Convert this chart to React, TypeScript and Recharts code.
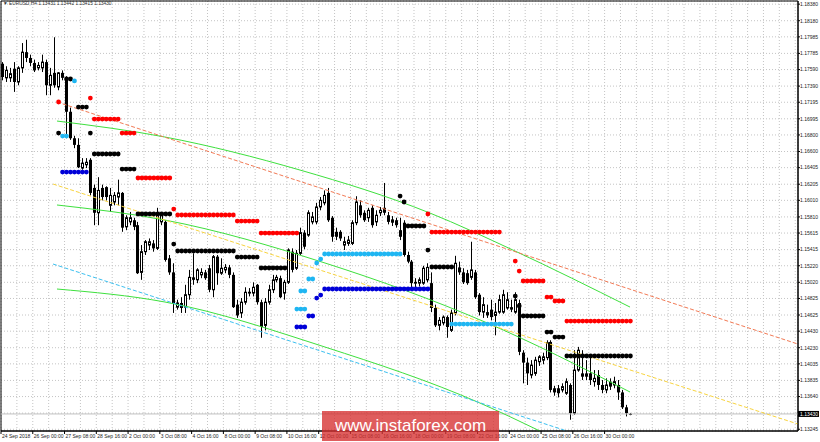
import React from 'react'
import { ComposedChart, Bar, Line, Scatter, XAxis, YAxis, CartesianGrid, ReferenceLine, ReferenceArea } from 'recharts'

// EURUSD H4 candles (bar 0 = 24 Sep 2018 16:00)
const open = [
  1.1766, 1.1749, 1.1749, 1.176, 1.1744, 1.1761, 1.178, 1.1773, 1.1767, 1.1761,
  1.1761, 1.1768, 1.174, 1.1755, 1.1738, 1.1755, 1.1749, 1.1708, 1.1676, 1.1668,
  1.164, 1.1644, 1.165, 1.1616, 1.1586, 1.1616, 1.1617, 1.1595, 1.1599, 1.1605,
  1.161, 1.1569, 1.1575, 1.1577, 1.1571, 1.1514, 1.1539, 1.1547, 1.1549, 1.1543,
  1.1575, 1.1575, 1.1531, 1.1514, 1.1472, 1.1477, 1.1472, 1.1487, 1.1508, 1.1505,
  1.1511, 1.1514, 1.1519, 1.1493, 1.1533, 1.1513, 1.1517, 1.152, 1.1511, 1.1475,
  1.1465, 1.1478, 1.1489, 1.1489, 1.1499, 1.1478, 1.145, 1.1478, 1.1493, 1.1505,
  1.1507, 1.1489, 1.1502, 1.1539, 1.1519, 1.1537, 1.1562, 1.1559, 1.1575, 1.1575,
  1.1593, 1.1598, 1.161, 1.158, 1.1563, 1.1563, 1.1547, 1.1549, 1.1549, 1.1574,
  1.1595, 1.1586, 1.158, 1.1592, 1.1575, 1.1586, 1.1592, 1.1583, 1.1578, 1.1577,
  1.1565, 1.1574, 1.1535, 1.1527, 1.1501, 1.1501, 1.1501, 1.1505, 1.1501, 1.1471,
  1.145, 1.1453, 1.146, 1.1444, 1.1465, 1.152, 1.1514, 1.1513, 1.1508, 1.1514,
  1.1487, 1.1466, 1.1466, 1.1469, 1.1462, 1.1466, 1.1466, 1.1471, 1.1472, 1.1466,
  1.1477, 1.1417, 1.1405, 1.139, 1.1392, 1.1406, 1.1408, 1.1411, 1.143, 1.1374,
  1.1374, 1.1372, 1.1368, 1.1378, 1.1344, 1.1396, 1.1392, 1.1392, 1.1392, 1.1382,
  1.139, 1.1378, 1.1372, 1.1382, 1.1378, 1.1378, 1.1369, 1.1351, 1.13431,
]
const high = [
  1.1768, 1.1763, 1.1761, 1.1768, 1.1763, 1.1791, 1.1795, 1.1777, 1.1771, 1.1768,
  1.1777, 1.1771, 1.1761, 1.1798, 1.1756, 1.1758, 1.1751, 1.1713, 1.1679, 1.1676,
  1.1652, 1.1652, 1.1652, 1.162, 1.1629, 1.162, 1.1618, 1.1616, 1.1611, 1.1626,
  1.1611, 1.1583, 1.1587, 1.158, 1.1575, 1.1547, 1.1553, 1.1555, 1.1553, 1.1592,
  1.1587, 1.1577, 1.1535, 1.1525, 1.1481, 1.1484, 1.1499, 1.1517, 1.1537, 1.1519,
  1.1519, 1.1517, 1.1523, 1.1535, 1.1535, 1.1531, 1.1524, 1.1523, 1.1514, 1.1481,
  1.1483, 1.1496, 1.1495, 1.1502, 1.15, 1.1481, 1.1483, 1.1499, 1.1511, 1.1511,
  1.151, 1.1505, 1.1543, 1.1543, 1.1541, 1.1568, 1.1565, 1.1589, 1.1587, 1.1598,
  1.1605, 1.1613, 1.1616, 1.1582, 1.1568, 1.1565, 1.1557, 1.1558, 1.1577, 1.1606,
  1.1601, 1.1589, 1.1592, 1.1595, 1.1589, 1.1593, 1.1622, 1.1587, 1.1582, 1.158,
  1.158, 1.1577, 1.1539, 1.1529, 1.1507, 1.1508, 1.1522, 1.1525, 1.1514, 1.1475,
  1.146, 1.1462, 1.1462, 1.1469, 1.1534, 1.1527, 1.1519, 1.1517, 1.1551, 1.1517,
  1.1489, 1.1484, 1.1475, 1.1481, 1.1477, 1.1487, 1.1493, 1.149, 1.1481, 1.149,
  1.1481, 1.142, 1.1411, 1.1408, 1.1412, 1.1414, 1.1417, 1.1432, 1.1432, 1.1377,
  1.1378, 1.138, 1.1386, 1.138, 1.142, 1.1424, 1.142, 1.1408, 1.1412, 1.1396,
  1.1396, 1.1384, 1.1386, 1.1386, 1.1388, 1.1384, 1.1372, 1.1354, 1.13442,
]
const low = [
  1.1746, 1.1744, 1.1744, 1.1732, 1.174, 1.1755, 1.1768, 1.1763, 1.1756, 1.1758,
  1.1756, 1.1728, 1.1728, 1.1737, 1.1734, 1.1746, 1.1676, 1.1674, 1.1664, 1.164,
  1.1638, 1.164, 1.1607, 1.1571, 1.1571, 1.1601, 1.1601, 1.1587, 1.1595, 1.1595,
  1.1563, 1.1565, 1.1571, 1.1565, 1.1512, 1.1505, 1.1535, 1.1541, 1.1539, 1.1541,
  1.1571, 1.1527, 1.1511, 1.1465, 1.1469, 1.1465, 1.1465, 1.1481, 1.1499, 1.1501,
  1.1507, 1.1505, 1.149, 1.1484, 1.1499, 1.1511, 1.1513, 1.1507, 1.1471, 1.1459,
  1.1459, 1.1475, 1.1485, 1.1485, 1.1475, 1.1435, 1.1444, 1.1475, 1.1489, 1.1502,
  1.1483, 1.1481, 1.15, 1.1514, 1.1517, 1.1535, 1.1542, 1.1557, 1.1572, 1.1572,
  1.1589, 1.1595, 1.1575, 1.1551, 1.1553, 1.1552, 1.1541, 1.1546, 1.1547, 1.1571,
  1.158, 1.1575, 1.1575, 1.1568, 1.157, 1.1582, 1.1583, 1.1572, 1.157, 1.1568,
  1.1553, 1.1533, 1.1525, 1.1496, 1.1496, 1.1497, 1.1499, 1.1502, 1.1466, 1.1448,
  1.1444, 1.145, 1.1435, 1.1442, 1.1462, 1.1511, 1.15, 1.1499, 1.1505, 1.1482,
  1.1462, 1.1459, 1.1459, 1.1456, 1.1438, 1.1464, 1.1464, 1.1469, 1.1466, 1.1464,
  1.1414, 1.138, 1.1378, 1.1386, 1.1389, 1.1401, 1.1403, 1.1408, 1.1369, 1.1365,
  1.1363, 1.1369, 1.1366, 1.1336, 1.1342, 1.1394, 1.1384, 1.1384, 1.1378, 1.1376,
  1.1372, 1.1368, 1.1368, 1.1372, 1.1374, 1.136, 1.1349, 1.134, 1.13415,
]
const close = [
  1.175, 1.1758, 1.1754, 1.1744, 1.1761, 1.178, 1.1773, 1.1767, 1.1758, 1.1764,
  1.1768, 1.174, 1.1752, 1.174, 1.1755, 1.1749, 1.1708, 1.1676, 1.1668, 1.1641,
  1.1646, 1.1647, 1.161, 1.1586, 1.1613, 1.1605, 1.1605, 1.1607, 1.1607, 1.161,
  1.1568, 1.158, 1.158, 1.1569, 1.1513, 1.1539, 1.1551, 1.1551, 1.1543, 1.1583,
  1.1583, 1.1529, 1.1514, 1.1477, 1.1477, 1.1471, 1.1487, 1.1508, 1.1505, 1.1517,
  1.1514, 1.1507, 1.1493, 1.1533, 1.1513, 1.1519, 1.152, 1.1511, 1.1472, 1.1462,
  1.1478, 1.149, 1.149, 1.1496, 1.1478, 1.1448, 1.1478, 1.1493, 1.1505, 1.1508,
  1.1484, 1.1502, 1.1541, 1.1517, 1.1537, 1.1562, 1.1545, 1.1586, 1.1581, 1.1593,
  1.1601, 1.1607, 1.1577, 1.1557, 1.1557, 1.1555, 1.1551, 1.1553, 1.1574, 1.1599,
  1.1583, 1.1577, 1.1589, 1.1571, 1.1583, 1.1589, 1.1586, 1.1575, 1.1574, 1.1571,
  1.1557, 1.1535, 1.1527, 1.1501, 1.1502, 1.1505, 1.1519, 1.152, 1.1471, 1.145,
  1.1456, 1.146, 1.1448, 1.1465, 1.1525, 1.1514, 1.1502, 1.1501, 1.1517, 1.1484,
  1.1466, 1.1475, 1.1462, 1.146, 1.1466, 1.1481, 1.1487, 1.1481, 1.1469, 1.1481,
  1.1418, 1.1405, 1.1392, 1.1402, 1.1408, 1.1412, 1.1412, 1.1429, 1.1372, 1.1369,
  1.1368, 1.1376, 1.1382, 1.1344, 1.1396, 1.142, 1.1388, 1.1388, 1.1384, 1.1386,
  1.1378, 1.1372, 1.1378, 1.1376, 1.1382, 1.1369, 1.1351, 1.1344, 1.1343,
]

// indicator levels: [first bar, last bar, price]
const redLevels = [
  [14, 14, 1.17198], [22, 22, 1.17246], [23, 29, 1.16992], [30, 33, 1.16823], [34, 42, 1.1628],
  [43, 43, 1.15905], [44, 58, 1.15833], [59, 64, 1.1576], [65, 74, 1.15615], [107, 107, 1.15845],
  [108, 125, 1.15627], [129, 129, 1.15277], [130, 130, 1.15156], [131, 136, 1.15036],
  [137, 138, 1.14842], [139, 141, 1.14794], [142, 158, 1.14552],
]
const blackLevels = [
  [14, 14, 1.16823], [16, 17, 1.17476], [19, 21, 1.17137], [22, 22, 1.16823], [23, 29, 1.1657],
  [30, 33, 1.16388], [34, 42, 1.15845], [43, 43, 1.15482], [44, 58, 1.15398], [59, 64, 1.15325],
  [65, 71, 1.15193], [100, 100, 1.16062], [101, 101, 1.1599], [102, 106, 1.157], [107, 107, 1.1541],
  [108, 113, 1.15205], [129, 129, 1.14854], [130, 130, 1.14734], [131, 136, 1.14613],
  [137, 138, 1.14419], [139, 141, 1.14359], [142, 158, 1.1413],
]
const aquaLevels = [
  [15, 16, 1.16787], [18, 18, 1.17452], [74, 76, 1.14697], [75, 76, 1.14915], [77, 78, 1.1506],
  [79, 79, 1.15253], [80, 80, 1.15301], [81, 100, 1.15362], [113, 128, 1.14516],
]
const blueLevels = [
  [15, 21, 1.16352], [74, 76, 1.1448], [77, 78, 1.14613], [79, 79, 1.1483], [80, 80, 1.14866],
  [81, 107, 1.14939],
]

// trend lines / channel: [bar, price]
const orangeTrend = [[13.6, 1.17198], [200.2, 1.14274]]
const yellowTrend = [[12.6, 1.16207], [200.2, 1.13308]]
const aquaTrend = [[12.6, 1.15241], [142.0, 1.13224]]
const greenUpper = [[13.6, 1.16968], [40.8, 1.16775], [74.8, 1.16376], [107.5, 1.15857], [128.4, 1.1541], [157.9, 1.14721]]
const greenMiddle = [[13.6, 1.15954], [40.8, 1.15772], [81.1, 1.15253], [121.4, 1.1454], [157.9, 1.13695]]
const greenLower = [[13.6, 1.14939], [40.8, 1.14782], [81.1, 1.14238], [120.1, 1.13562], [135.2, 1.13224]]

const priceTicks = [
  1.1838, 1.1818, 1.17985, 1.17785, 1.1759, 1.1739, 1.17195, 1.16995, 1.168, 1.166,
  1.16405, 1.16205, 1.1601, 1.1581, 1.15615, 1.15415, 1.1522, 1.1502, 1.14825, 1.14625,
  1.1443, 1.1423, 1.14035, 1.13835, 1.1364, 1.1344, 1.13245,
]
const timeLabels = [
  '24 Sep 2018', '26 Sep 00:00', '27 Sep 08:00', '28 Sep 16:00', '2 Oct 00:00', '3 Oct 08:00',
  '4 Oct 16:00', '8 Oct 00:00', '9 Oct 08:00', '10 Oct 16:00', '12 Oct 00:00', '15 Oct 08:00',
  '16 Oct 16:00', '18 Oct 00:00', '19 Oct 08:00', '22 Oct 16:00', '24 Oct 00:00', '25 Oct 08:00',
  '26 Oct 16:00', '30 Oct 00:00',
]
const lastPrice = 1.1343

const candles = open.map((o, i) => ({ i, o, h: high[i], l: low[i], c: close[i] }))
const toPts = (arr: number[][]) => arr.map(([i, p]) => ({ i, p }))
const toDots = (segs: number[][]) =>
  segs.flatMap(([a, b, p]) => Array.from({ length: b - a + 1 }, (_, k) => ({ i: a + k, p })))

const xDomain = [-0.5, 200.2]
const yDomain = [1.13224, 1.18418]
const gridTicks = Array.from({ length: 51 }, (_, k) => k * 4 - 0.5)
const font = '"Liberation Sans", Arial, sans-serif'

const Candle = (props: any) => {
  const { x, y, width, height, payload } = props
  const { o, h, l, c } = payload
  const top = Math.min(y, y + height)
  const span = Math.abs(height)
  const py = (v: number) => (h === l ? top : top + ((h - v) / (h - l)) * span)
  const cx = Math.floor(x + width / 2) + 0.5
  const bTop = py(Math.max(o, c))
  const bBot = py(Math.min(o, c))
  const bull = c >= o
  return (
    <g>
      <line x1={cx} x2={cx} y1={top} y2={top + span} stroke="#000" strokeWidth={1} />
      {bull ? (
        <rect x={cx - 1} y={bTop} width={2} height={Math.max(bBot - bTop, 0.5)} fill="#fff" stroke="#000" strokeWidth={1} />
      ) : (
        <rect x={cx - 1.5} y={bTop} width={3} height={Math.max(bBot - bTop, 1)} fill="#000" />
      )}
    </g>
  )
}

const dot = (color: string) => (p: any) => <circle cx={p.cx} cy={p.cy} r={2.4} fill={color} />

const XTick = (props: any) => {
  const { x, y, payload } = props
  const n = (payload.value + 0.5) / 8
  if (!Number.isInteger(n) || !timeLabels[n]) return <g />
  return (
    <g>
      <line x1={x} x2={x} y1={y - 2} y2={y + 1} stroke="#000" />
      <text x={x + 1} y={y + 5} fontSize={5} fontFamily={font} fill="#222">{timeLabels[n]}</text>
    </g>
  )
}

const YTick = (props: any) => {
  const { x, y, payload } = props
  if (payload.value === 1.1344) return <g />
  return (
    <g>
      <line x1={x - 2} x2={x} y1={y} y2={y} stroke="#000" />
      <text x={x} y={y + 1.8} fontSize={5} fontFamily={font} fill="#222">{payload.value.toFixed(5)}</text>
    </g>
  )
}

const PriceTag = (props: any) => {
  const { viewBox } = props
  const x = viewBox.x + viewBox.width
  return (
    <g>
      <rect x={x} y={viewBox.y - 3} width={21} height={6} fill="#000" />
      <text x={x + 2} y={viewBox.y + 1.8} fontSize={5} fontFamily={font} fill="#fff">{lastPrice.toFixed(5)}</text>
    </g>
  )
}

export default function App() {
  return (
    <div style={{ position: 'absolute', left: 0, top: 0, width: 820, height: 442, background: '#fff' }}>
      <ComposedChart width={820} height={442} data={candles} margin={{ top: 1, right: 1, bottom: 0, left: 1 }}>
        <CartesianGrid stroke="#c4c4c4" strokeDasharray="1 2" />
        <XAxis
          type="number"
          dataKey="i"
          domain={xDomain}
          ticks={gridTicks}
          interval={0}
          height={11}
          tickSize={2}
          tickMargin={0}
          tickLine={false}
          axisLine={{ stroke: '#000' }}
          tick={<XTick />}
        />
        <YAxis
          orientation="right"
          type="number"
          domain={yDomain}
          ticks={priceTicks}
          interval={0}
          width={21}
          tickSize={2}
          tickMargin={0}
          tickLine={false}
          axisLine={{ stroke: '#000' }}
          tick={<YTick />}
        />
        <ReferenceArea x1={xDomain[0]} x2={xDomain[1]} y1={yDomain[0]} y2={yDomain[1]} fill="none" stroke="#000" strokeWidth={1} />
        <ReferenceLine y={lastPrice} stroke="#c0c0c0" label={<PriceTag />} />
        <Bar dataKey={(d: any) => [d.l, d.h]} barSize={3} shape={<Candle />} isAnimationActive={false} />
        <Line data={toPts(greenUpper)} dataKey="p" type="monotone" stroke="#3ee03e" strokeWidth={1} dot={false} isAnimationActive={false} />
        <Line data={toPts(greenMiddle)} dataKey="p" type="monotone" stroke="#3ee03e" strokeWidth={1} dot={false} isAnimationActive={false} />
        <Line data={toPts(greenLower)} dataKey="p" type="monotone" stroke="#3ee03e" strokeWidth={1} dot={false} isAnimationActive={false} />
        <Line data={toPts(orangeTrend)} dataKey="p" type="linear" stroke="#f27a55" strokeDasharray="4 2" strokeWidth={1} dot={false} isAnimationActive={false} />
        <Line data={toPts(yellowTrend)} dataKey="p" type="linear" stroke="#f8d440" strokeDasharray="4 2" strokeWidth={1} dot={false} isAnimationActive={false} />
        <Line data={toPts(aquaTrend)} dataKey="p" type="linear" stroke="#3cc0f0" strokeDasharray="4 2" strokeWidth={1} dot={false} isAnimationActive={false} />
        <Scatter data={toDots(redLevels)} dataKey="p" shape={dot('#ff0000')} isAnimationActive={false} />
        <Scatter data={toDots(blackLevels)} dataKey="p" shape={dot('#000000')} isAnimationActive={false} />
        <Scatter data={toDots(aquaLevels)} dataKey="p" shape={dot('#1fb6f2')} isAnimationActive={false} />
        <Scatter data={toDots(blueLevels)} dataKey="p" shape={dot('#0000d8')} isAnimationActive={false} />
      </ComposedChart>
      <div style={{ position: 'absolute', left: 3, top: 1, fontSize: 4.8, fontFamily: font, color: '#333', whiteSpace: 'nowrap', lineHeight: '6px' }}>
        ▼ EURUSD,H4 1.13431 1.13442 1.13415 1.13430
      </div>
      <div
        style={{
          position: 'absolute', left: 322, top: 411, width: 177, height: 30,
          background: 'rgba(214, 48, 48, 0.78)', color: '#fff', fontFamily: font,
          fontSize: 17, lineHeight: '30px', textAlign: 'center',
        }}
      >
        www.instaforex.com
      </div>
    </div>
  )
}
